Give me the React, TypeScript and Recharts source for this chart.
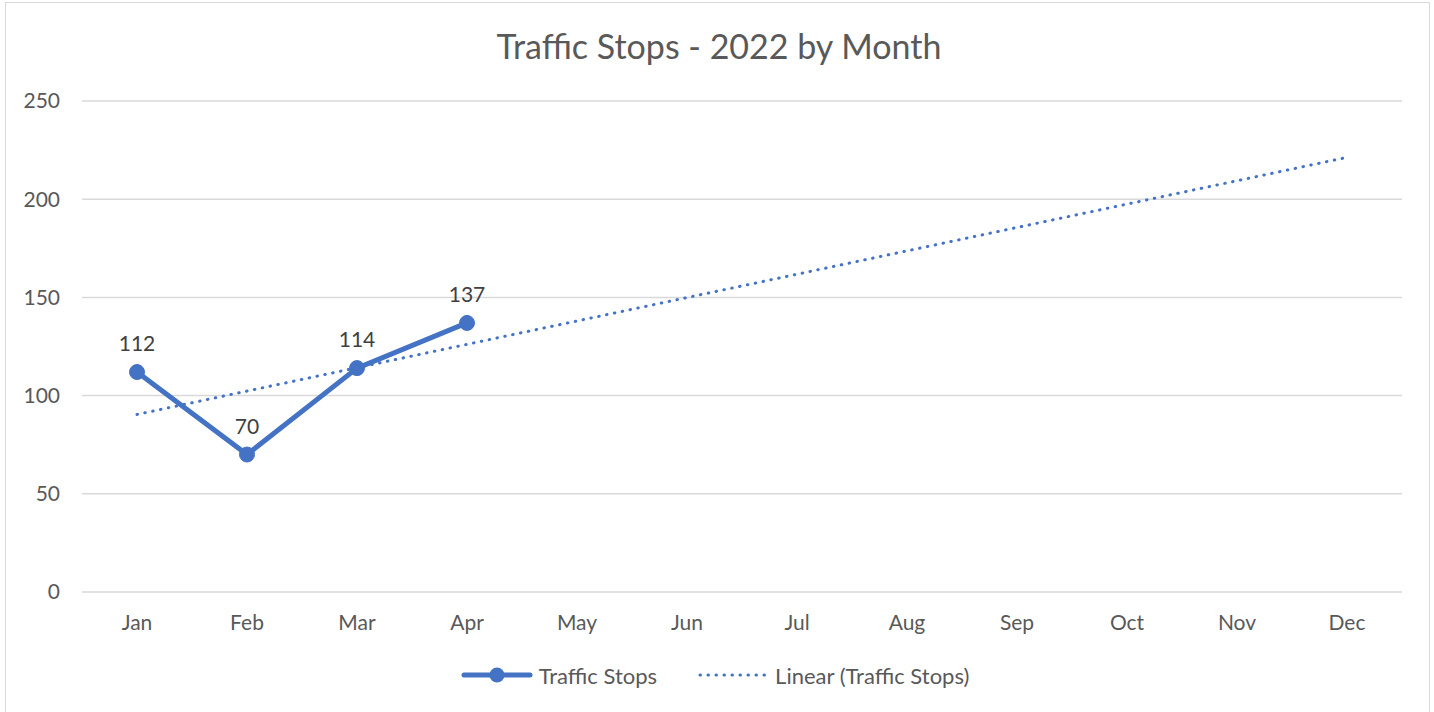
import { CartesianGrid, LabelList, Legend, Line, LineChart, XAxis, YAxis } from "recharts";

const MONTHS = ["Jan", "Feb", "Mar", "Apr", "May", "Jun", "Jul", "Aug", "Sep", "Oct", "Nov", "Dec"];
const STOPS: (number | null)[] = [112, 70, 114, 137, null, null, null, null, null, null, null, null];
// trend line endpoints; the line between is drawn straight by connectNulls
const TREND: (number | null)[] = [90.4, null, null, null, null, null, null, null, null, null, null, 221.3];
const Y_TICKS = [0, 50, 100, 150, 200, 250];

const BLUE = "#4472C4";
const TEXT = "#595959";
const FONT = "Lato, 'Open Sans', sans-serif";

const data = MONTHS.map((m, i) => ({ month: m, stops: STOPS[i], trend: TREND[i] }));

function LegendContent() {
  return (
    <div
      style={{
        display: "flex",
        justifyContent: "center",
        alignItems: "center",
        height: 40,
        fontFamily: FONT,
        fontSize: 22,
        color: TEXT,
        paddingLeft: 6,
      }}
    >
      <svg width={72} height={20} style={{ marginRight: 6 }}>
        <line x1={3} y1={10} x2={69} y2={10} stroke={BLUE} strokeWidth={5} strokeLinecap="round" />
        <circle cx={36} cy={10} r={7.5} fill={BLUE} />
      </svg>
      <span style={{ marginRight: 40 }}>Traffic Stops</span>
      <svg width={72} height={20} style={{ marginRight: 6 }}>
        <line
          x1={3}
          y1={10}
          x2={69}
          y2={10}
          stroke={BLUE}
          strokeWidth={3}
          strokeDasharray="0.5 7.5"
          strokeLinecap="round"
        />
      </svg>
      <span>Linear (Traffic Stops)</span>
    </div>
  );
}

export default function App() {
  return (
    <div style={{ position: "absolute", left: 0, top: 0, width: 1434, height: 712, background: "#fff", overflow: "hidden" }}>
      <div
        style={{
          position: "absolute",
          left: 5,
          top: 2,
          width: 1425,
          height: 720,
          border: "1.5px solid #d9d9d9",
          boxSizing: "border-box",
        }}
      />
      <div
        style={{
          position: "absolute",
          left: 0,
          top: 25,
          width: 1438,
          textAlign: "center",
          fontFamily: FONT,
          fontSize: 34,
          color: TEXT,
        }}
      >
        Traffic Stops - 2022 by Month
      </div>
      <div style={{ position: "absolute", left: 0, top: 0 }}>
        <LineChart width={1434} height={712} data={data} margin={{ top: 101, right: 32, bottom: 17, left: 22 }}>
          <CartesianGrid horizontal vertical={false} stroke="#d9d9d9" strokeWidth={1.5} />
          <XAxis
            dataKey="month"
            axisLine={false}
            tickLine={false}
            tickSize={0}
            tickMargin={23}
            height={63}
            padding={{ left: 55, right: 55 }}
            tick={{ fontSize: 21, fill: TEXT, fontFamily: FONT }}
          />
          <YAxis
            domain={[0, 250]}
            ticks={Y_TICKS}
            axisLine={false}
            tickLine={false}
            tickSize={0}
            tickMargin={22}
            width={60}
            tick={{ fontSize: 21, fill: TEXT, fontFamily: FONT }}
          />
          <Legend verticalAlign="bottom" content={<LegendContent />} />
          <Line
            dataKey="trend"
            name="Linear (Traffic Stops)"
            stroke={BLUE}
            strokeWidth={3}
            strokeDasharray="0.5 7.5"
            strokeLinecap="round"
            dot={false}
            activeDot={false}
            connectNulls
            isAnimationActive={false}
          />
          <Line
            dataKey="stops"
            name="Traffic Stops"
            stroke={BLUE}
            strokeWidth={5}
            dot={{ r: 7.5, fill: BLUE, stroke: BLUE, strokeWidth: 1 }}
            activeDot={false}
            isAnimationActive={false}
          >
            <LabelList dataKey="stops" position="top" offset={21} fill="#404040" fontSize={21} fontFamily={FONT} />
          </Line>
        </LineChart>
      </div>
    </div>
  );
}
